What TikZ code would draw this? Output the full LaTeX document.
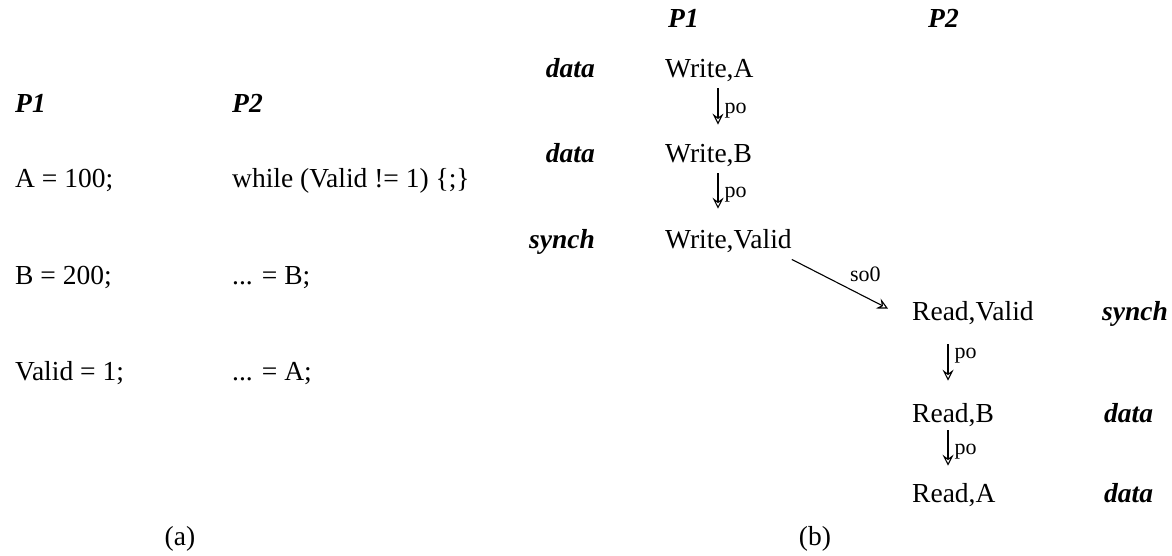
\documentclass[tikz,border=0pt]{standalone}
\usepackage{fontspec}
\setmainfont{Liberation Serif}
\usetikzlibrary{arrows.meta,calc}
\begin{document}
\begin{tikzpicture}[x=1pt,y=-1pt,
  txt/.style={inner sep=0pt, font=\fontsize{27.5}{32}\selectfont},
  tag/.style={txt, font=\fontsize{27.5}{32}\selectfont\bfseries\itshape},
  lbl/.style={inner sep=0pt, font=\fontsize{22}{26}\selectfont},
  rel/.style={line width=1.1pt, -{Stealth[open,length=11pt,width=11pt,inset=4pt,line width=1.1pt]}}]
\useasboundingbox (0,0) rectangle (1172,556);
% (a)
\node[tag, anchor=base west] (ap1) at (15,113) {P1};
\node[tag, anchor=base west] (ap2) at (232,113) {P2};
\node[txt, anchor=base west] (a1) at (15,188) {A = 100;};
\node[txt, anchor=base west] (a2) at (15,284) {B = 200;};
\node[txt, anchor=base west] (a3) at (15,380) {Valid = 1;};
\node[txt, anchor=base west] (b1) at (232,188) {while (Valid != 1) \{;\}};
\node[txt, anchor=base west] (b2) at (232,284) {... = B;};
\node[txt, anchor=base west] (b3) at (232,380) {... = A;};
\node[txt, anchor=base] (capa) at (180,545) {(a)};
% (b)
\node[tag, anchor=base west] (bp1) at (668,28) {P1};
\node[tag, anchor=base west] (bp2) at (928,28) {P2};
\node[txt, anchor=base west] (wa) at (665,78) {Write,A};
\node[txt, anchor=base west] (wb) at (665,163) {Write,B};
\node[txt, anchor=base west] (wv) at (665,248) {Write,Valid};
\node[tag, anchor=base east] (la) at (595,78) {data};
\node[tag, anchor=base east] (lb) at (595,163) {data};
\node[tag, anchor=base east] (lv) at (595,248) {synch};
\node[txt, anchor=base west] (rv) at (912,320) {Read,Valid};
\node[txt, anchor=base west] (rb) at (912,422) {Read,B};
\node[txt, anchor=base west] (ra) at (912,502) {Read,A};
\node[tag, anchor=base west] (mv) at (1102,320) {synch};
\node[tag, anchor=base west] (mb) at (1104,422) {data};
\node[tag, anchor=base west] (ma) at (1104,502) {data};
\node[txt, anchor=base] (capb) at (815,545) {(b)};
\coordinate (cw) at (718,0);
\coordinate (cr) at (948,0);
\draw[rel, shorten <=6pt, shorten >=20pt] (wa.south -| cw) -- node[lbl, anchor=west, pos=0.45, xshift=6pt] {po} (wb.north -| cw);
\draw[rel, shorten <=6pt, shorten >=20pt] (wb.south -| cw) -- node[lbl, anchor=west, pos=0.45, xshift=6pt] {po} (wv.north -| cw);
\draw[rel] ([yshift=-7pt]wv.south east) -- node[lbl, pos=0.6, anchor=south west, yshift=7pt] {so0} ([xshift=-24pt,yshift=4pt]rv.west);
\draw[rel, shorten <=20pt, shorten >=22pt] (rv.south -| cr) -- node[lbl, anchor=west, pos=0.4, xshift=6pt] {po} (rb.north -| cr);
\draw[rel, shorten <=4pt, shorten >=17pt] (rb.south -| cr) -- node[lbl, anchor=west, pos=0.45, xshift=6pt] {po} (ra.north -| cr);
\end{tikzpicture}
\end{document}
